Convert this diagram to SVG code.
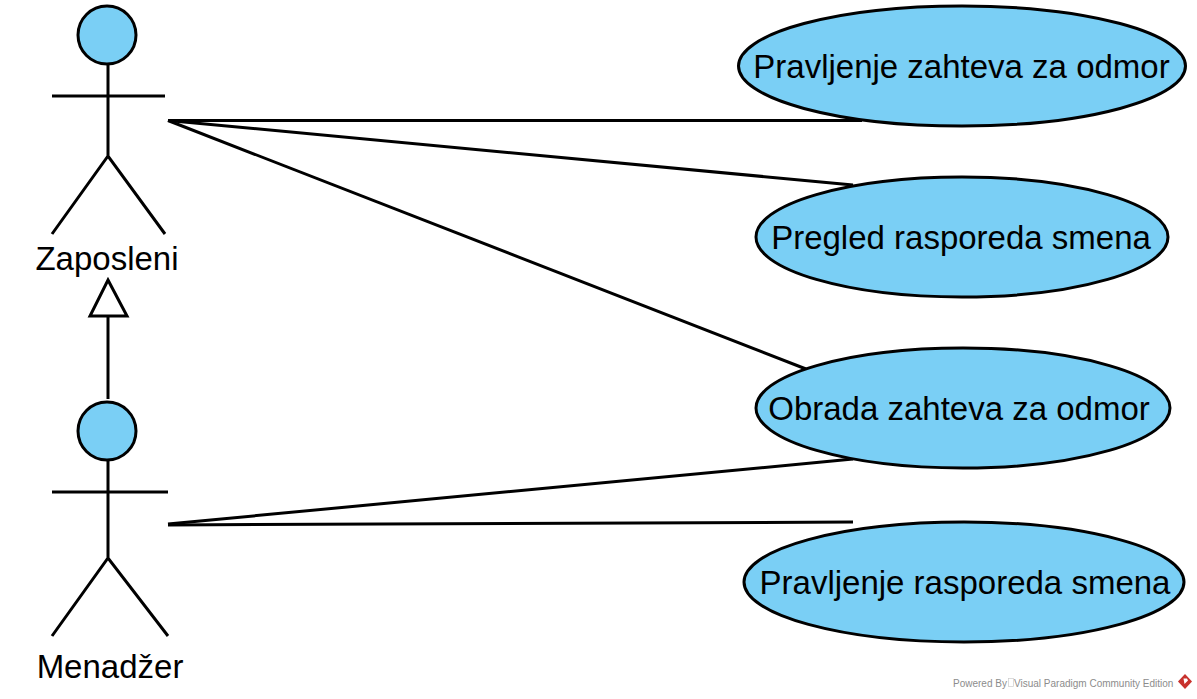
<svg xmlns="http://www.w3.org/2000/svg" width="1197" height="699" viewBox="0 0 1197 699">
<style>
.l{fill:none;stroke:#000;stroke-width:3;stroke-linecap:butt}
.s{fill:#7ACFF5;stroke:#000;stroke-width:3}
.t{font-family:"Liberation Sans",Arial,sans-serif;font-size:33px;fill:#000}
.w{font-family:"Liberation Sans",Arial,sans-serif;font-size:10px;fill:#8c8c8c}
</style>
<rect width="1197" height="699" fill="#fff"/>
<g id="connectors">
<path class="l" d="M168 120.500H862"/>
<path class="l" d="M168 120.500L853 185"/>
<path class="l" d="M168 120.500L806 369"/>
<path class="l" d="M168 524L853 459"/>
<path class="l" d="M168 525L853 522"/>
<path class="l" d="M108 399V316"/>
<path d="M108 280L127 316H90Z" fill="#fff" stroke="#000" stroke-width="3"/>
</g>
<g id="actor-zaposleni">
<circle class="s" cx="107" cy="35" r="29"/>
<path class="l" d="M108 64V156M52 96H165M52 234L108 156L165 234"/>
<text class="t" x="107" y="270" text-anchor="middle">Zaposleni</text>
</g>
<g id="actor-menadzer">
<circle class="s" cx="107" cy="431" r="29"/>
<path class="l" d="M108 460V558M52 492H168M52 636L108 558L168 636"/>
<text class="t" x="110" y="678" text-anchor="middle">Menadžer</text>
</g>
<g id="uc1">
<ellipse class="s" cx="962" cy="66" rx="223.500" ry="60"/>
<text class="t" x="961.500" y="78" text-anchor="middle">Pravljenje zahteva za odmor</text>
</g>
<g id="uc2">
<ellipse class="s" cx="962" cy="237" rx="206" ry="60"/>
<text class="t" x="961" y="249" text-anchor="middle">Pregled rasporeda smena</text>
</g>
<g id="uc3">
<ellipse class="s" cx="963" cy="408" rx="207" ry="60"/>
<text class="t" x="959" y="420" text-anchor="middle">Obrada zahteva za odmor</text>
</g>
<g id="uc4">
<ellipse class="s" cx="964" cy="582" rx="220" ry="60"/>
<text class="t" x="965" y="594" text-anchor="middle">Pravljenje rasporeda smena</text>
</g>
<g id="watermark">
<text class="w" x="953" y="686.500">Powered By</text>
<text class="w" x="1014" y="686.500">Visual Paradigm Community Edition</text>
<rect x="1008.500" y="678.500" width="5" height="8" fill="none" stroke="#ccc" stroke-width="0.700"/>
<path d="M1185 674L1192 681.500L1185 689L1178 681.500Z" fill="#c8322d"/>
<path d="M1183.500 678.500h3.500l1 2-3.500 3.500z" fill="#fff"/>
</g>
</svg>
